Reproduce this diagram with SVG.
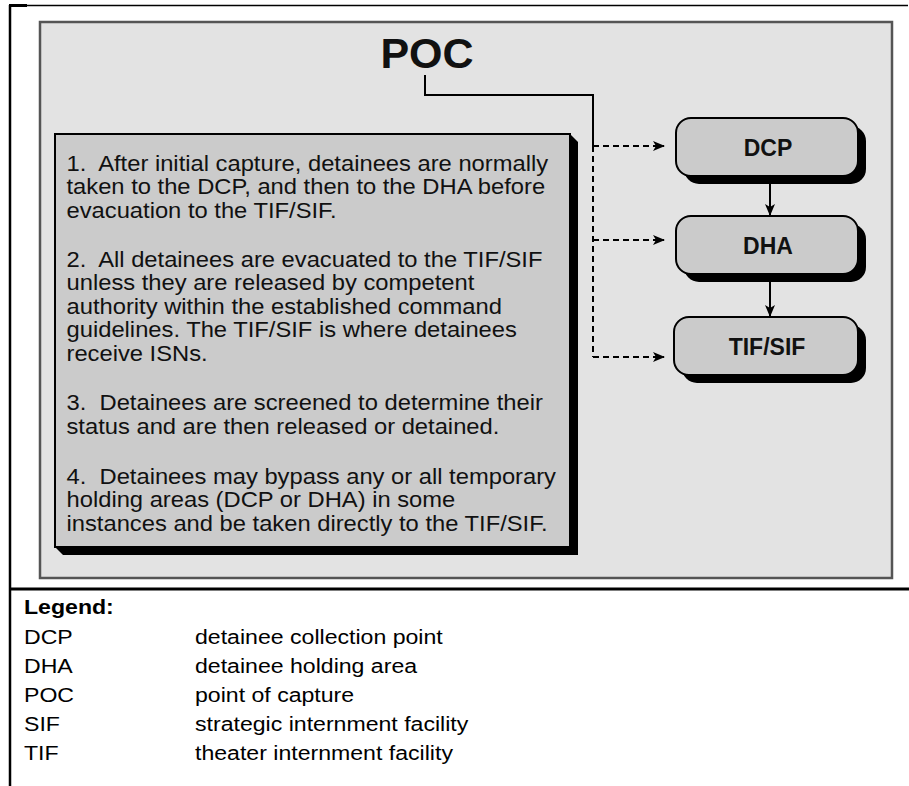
<svg xmlns="http://www.w3.org/2000/svg" width="909" height="786" viewBox="0 0 909 786">
<defs>
<marker id="ah" viewBox="0 0 12 10" refX="11" refY="5" markerWidth="12" markerHeight="10" markerUnits="userSpaceOnUse" orient="auto">
<path d="M0,0 L12,5 L0,10 L3,5 z" fill="#000"/>
</marker>
</defs>
<style>
.frame{stroke:#000;fill:none}
.panel{fill:#e3e3e3;stroke:#555;stroke-width:2.5}
.box{fill:#cbcbcb;stroke:#000;stroke-width:2}
.shadow{fill:#000}
.para{font-family:"Liberation Sans",Arial,sans-serif;font-size:22px;fill:#111;white-space:pre}
.lbl{font-family:"Liberation Sans",Arial,sans-serif;font-size:23px;font-weight:bold;fill:#111;text-anchor:middle}
.poc{font-family:"Liberation Sans",Arial,sans-serif;font-size:43px;font-weight:bold;fill:#111;text-anchor:middle}
.leg{font-family:"Liberation Sans",Arial,sans-serif;font-size:21px;fill:#000}
.legh{font-family:"Liberation Sans",Arial,sans-serif;font-size:21px;font-weight:bold;fill:#000}
.solid{stroke:#000;stroke-width:2;fill:none}
.dash{stroke:#000;stroke-width:2;fill:none;stroke-dasharray:6 4}
</style>
<g id="frame">
<line class="frame" x1="9" y1="5.5" x2="908" y2="5.5" stroke-width="1.5"/>
<line class="frame" x1="9" y1="5.5" x2="27" y2="5.5" stroke-width="3"/>
<line class="frame" x1="10" y1="5" x2="10" y2="786" stroke-width="2.5"/>
<line class="frame" x1="9" y1="589" x2="909" y2="589" stroke-width="3"/>
</g>
<rect class="panel" x="40" y="22" width="852" height="556"/>
<g id="poc">
<text class="poc" x="427" y="68">POC</text>
</g>
<g id="notes">
<polygon class="shadow" points="570,134 578,142 578,555 63,555 55,547 570,547"/>
<rect class="box" x="55" y="134" width="515" height="413"/>
<g transform="translate(66.5 0) scale(1.08 1)">
<text class="para" x="0" y="171">1.  After initial capture, detainees are normally</text>
<text class="para" x="0" y="194.4">taken to the DCP, and then to the DHA before</text>
<text class="para" x="0" y="217.8">evacuation to the TIF/SIF.</text>
<text class="para" x="0" y="267">2.  All detainees are evacuated to the TIF/SIF</text>
<text class="para" x="0" y="290.4">unless they are released by competent</text>
<text class="para" x="0" y="313.8">authority within the established command</text>
<text class="para" x="0" y="337.2">guidelines. The TIF/SIF is where detainees</text>
<text class="para" x="0" y="360.6">receive ISNs.</text>
<text class="para" x="0" y="410.5">3.  Detainees are screened to determine their</text>
<text class="para" x="0" y="433.9">status and are then released or detained.</text>
<text class="para" x="0" y="484">4.  Detainees may bypass any or all temporary</text>
<text class="para" x="0" y="507.4">holding areas (DCP or DHA) in some</text>
<text class="para" x="0" y="530.8">instances and be taken directly to the TIF/SIF.</text>
</g>
</g>
<g id="dcp">
<rect class="shadow" x="684" y="126" width="182" height="58" rx="15"/>
<rect class="box" x="676" y="118" width="182" height="58" rx="15"/>
<text class="lbl" x="768" y="156">DCP</text>
</g>
<g id="dha">
<rect class="shadow" x="684" y="224" width="182" height="58" rx="15"/>
<rect class="box" x="676" y="216" width="182" height="58" rx="15"/>
<text class="lbl" x="768" y="254">DHA</text>
</g>
<g id="tifsif">
<rect class="shadow" x="682" y="325" width="184" height="58" rx="15"/>
<rect class="box" x="674" y="317" width="184" height="58" rx="15"/>
<text class="lbl" x="767" y="355">TIF/SIF</text>
</g>
<g id="connectors">
<polyline class="solid" points="425,75 425,95 593,95 593,146"/>
<polyline class="dash" points="593,146 593,357"/>
<line class="dash" x1="593" y1="146" x2="664" y2="146" marker-end="url(#ah)"/>
<line class="dash" x1="593" y1="240" x2="664" y2="240" marker-end="url(#ah)"/>
<line class="dash" x1="593" y1="357" x2="664" y2="357" marker-end="url(#ah)"/>
<line class="solid" x1="770" y1="184" x2="770" y2="215" marker-end="url(#ah)"/>
<line class="solid" x1="770" y1="282" x2="770" y2="316" marker-end="url(#ah)"/>
</g>
<g id="legend">
<g transform="translate(24 0) scale(1.1 1)">
<text class="legh" x="0" y="614">Legend:</text>
<text class="leg" x="0" y="644">DCP</text>
<text class="leg" x="0" y="673">DHA</text>
<text class="leg" x="0" y="702">POC</text>
<text class="leg" x="0" y="731">SIF</text>
<text class="leg" x="0" y="760">TIF</text>
</g>
<g transform="translate(195 0) scale(1.1 1)">
<text class="leg" x="0" y="644">detainee collection point</text>
<text class="leg" x="0" y="673">detainee holding area</text>
<text class="leg" x="0" y="702">point of capture</text>
<text class="leg" x="0" y="731">strategic internment facility</text>
<text class="leg" x="0" y="760">theater internment facility</text>
</g>
</g>
</svg>
